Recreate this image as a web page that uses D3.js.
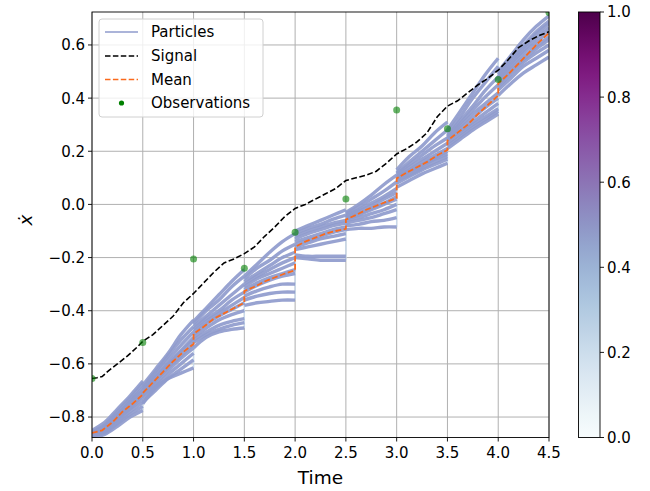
<!DOCTYPE html>
<html><head><meta charset="utf-8">
<script src="https://cdn.jsdelivr.net/npm/d3@7"></script>
<style>body{margin:0;background:#fff}text{font-family:"DejaVu Sans",sans-serif}</style>
</head><body><svg id="c" width="650" height="491"></svg>
<script>
// ---- data ----
const obsTimes = [0, 0.5, 1.0, 1.5, 2.0, 2.5, 3.0, 3.5, 4.0, 4.5];
const obsValues = [-0.655, -0.52, -0.205, -0.24, -0.105, 0.02, 0.355, 0.285, 0.47, 0.722];
const signal = [[0,-0.655],[0.05,-0.652],[0.1,-0.648],[0.15,-0.63],[0.25,-0.6],[0.35,-0.57],[0.45,-0.535],[0.5,-0.515],[0.6,-0.49],[0.7,-0.455],[0.8,-0.42],[0.9,-0.37],[1.0,-0.335],[1.1,-0.295],[1.2,-0.255],[1.3,-0.22],[1.4,-0.205],[1.5,-0.185],[1.6,-0.16],[1.7,-0.12],[1.8,-0.085],[1.9,-0.045],[2.0,-0.015],[2.1,0.0],[2.2,0.02],[2.3,0.04],[2.4,0.06],[2.5,0.09],[2.6,0.1],[2.7,0.11],[2.8,0.125],[2.9,0.155],[3.0,0.19],[3.1,0.21],[3.2,0.235],[3.3,0.27],[3.4,0.33],[3.5,0.37],[3.6,0.39],[3.7,0.42],[3.8,0.45],[3.9,0.475],[4.0,0.505],[4.1,0.545],[4.2,0.59],[4.3,0.615],[4.4,0.635],[4.5,0.65]];
// mean per segment, values at offsets 0, .1, .2, .3, .4, .5
const meanSegments = [
  [-0.86,-0.85,-0.82,-0.78,-0.75,-0.715],
  [-0.71,-0.67,-0.63,-0.59,-0.555,-0.525],
  [-0.487,-0.46,-0.43,-0.41,-0.39,-0.37],
  [-0.326,-0.31,-0.29,-0.275,-0.26,-0.248],
  [-0.16,-0.14,-0.125,-0.11,-0.1,-0.092],
  [-0.057,-0.04,-0.02,-0.005,0.01,0.024],
  [0.098,0.12,0.14,0.16,0.185,0.205],
  [0.24,0.27,0.3,0.34,0.375,0.41],
  [0.455,0.49,0.53,0.57,0.61,0.645]
];
const meanOffsets = [0, 0.1, 0.2, 0.3, 0.4, 0.5];
// particles per segment, values at offsets 0, .125, .25, .375, .5
const particleOffsets = [0, 0.125, 0.25, 0.375, 0.5];
const particleSegments = [
 [[-0.85,-0.82,-0.77,-0.72,-0.665],[-0.855,-0.83,-0.78,-0.73,-0.675],[-0.86,-0.835,-0.79,-0.74,-0.69],[-0.86,-0.84,-0.79,-0.745,-0.70],[-0.865,-0.845,-0.80,-0.755,-0.71],[-0.86,-0.85,-0.805,-0.765,-0.72],[-0.865,-0.85,-0.81,-0.77,-0.73],[-0.87,-0.855,-0.82,-0.78,-0.745],[-0.87,-0.86,-0.825,-0.79,-0.76],[-0.875,-0.865,-0.835,-0.80,-0.775]],
 [[-0.68,-0.62,-0.56,-0.49,-0.435],[-0.69,-0.63,-0.57,-0.51,-0.46],[-0.695,-0.64,-0.585,-0.53,-0.48],[-0.70,-0.65,-0.6,-0.55,-0.50],[-0.71,-0.655,-0.605,-0.555,-0.51],[-0.715,-0.665,-0.615,-0.57,-0.525],[-0.72,-0.675,-0.625,-0.58,-0.54],[-0.73,-0.685,-0.64,-0.6,-0.56],[-0.745,-0.7,-0.655,-0.62,-0.585],[-0.75,-0.69,-0.655,-0.635,-0.615]],
 [[-0.44,-0.39,-0.34,-0.29,-0.245],[-0.45,-0.40,-0.36,-0.31,-0.27],[-0.46,-0.42,-0.38,-0.34,-0.30],[-0.47,-0.43,-0.40,-0.36,-0.33],[-0.48,-0.44,-0.41,-0.38,-0.35],[-0.49,-0.45,-0.42,-0.395,-0.37],[-0.50,-0.465,-0.435,-0.415,-0.40],[-0.51,-0.48,-0.455,-0.44,-0.43],[-0.52,-0.49,-0.47,-0.455,-0.445],[-0.54,-0.50,-0.48,-0.47,-0.465]],
 [[-0.27,-0.225,-0.18,-0.14,-0.11],[-0.28,-0.24,-0.21,-0.175,-0.15],[-0.29,-0.26,-0.23,-0.2,-0.18],[-0.30,-0.27,-0.245,-0.22,-0.20],[-0.31,-0.28,-0.26,-0.24,-0.22],[-0.32,-0.295,-0.275,-0.26,-0.245],[-0.33,-0.305,-0.285,-0.27,-0.26],[-0.345,-0.325,-0.31,-0.3,-0.30],[-0.36,-0.345,-0.335,-0.33,-0.33],[-0.38,-0.37,-0.365,-0.36,-0.36]],
 [[-0.10,-0.08,-0.06,-0.04,-0.02],[-0.11,-0.09,-0.075,-0.055,-0.04],[-0.12,-0.10,-0.085,-0.07,-0.06],[-0.13,-0.11,-0.095,-0.08,-0.07],[-0.14,-0.125,-0.11,-0.095,-0.085],[-0.15,-0.135,-0.12,-0.105,-0.095],[-0.16,-0.145,-0.13,-0.12,-0.11],[-0.17,-0.16,-0.15,-0.14,-0.13],[-0.19,-0.195,-0.195,-0.195,-0.195],[-0.20,-0.205,-0.21,-0.21,-0.21]],
 [[-0.03,0.0,0.035,0.075,0.11],[-0.035,-0.01,0.02,0.05,0.085],[-0.04,-0.02,0.005,0.03,0.06],[-0.045,-0.025,-0.005,0.02,0.045],[-0.05,-0.035,-0.015,0.005,0.03],[-0.055,-0.04,-0.02,0.0,0.02],[-0.06,-0.05,-0.035,-0.02,0.0],[-0.07,-0.06,-0.05,-0.035,-0.02],[-0.08,-0.075,-0.065,-0.06,-0.05],[-0.095,-0.09,-0.09,-0.085,-0.085]],
 [[0.13,0.18,0.22,0.27,0.31],[0.12,0.16,0.2,0.24,0.28],[0.115,0.15,0.185,0.22,0.25],[0.11,0.14,0.17,0.2,0.23],[0.105,0.13,0.16,0.185,0.21],[0.10,0.125,0.15,0.175,0.2],[0.095,0.12,0.145,0.17,0.19],[0.09,0.11,0.135,0.16,0.18],[0.08,0.105,0.13,0.15,0.17],[0.065,0.09,0.115,0.135,0.155]],
 [[0.28,0.35,0.42,0.49,0.55],[0.27,0.33,0.40,0.46,0.52],[0.26,0.315,0.37,0.43,0.48],[0.255,0.305,0.355,0.405,0.45],[0.25,0.295,0.34,0.38,0.42],[0.245,0.285,0.325,0.365,0.40],[0.24,0.275,0.31,0.345,0.38],[0.23,0.265,0.3,0.33,0.36],[0.22,0.255,0.29,0.32,0.35],[0.21,0.245,0.28,0.31,0.34]],
 [[0.50,0.56,0.62,0.67,0.71],[0.49,0.55,0.60,0.65,0.69],[0.48,0.54,0.59,0.64,0.68],[0.475,0.53,0.58,0.625,0.665],[0.47,0.52,0.57,0.61,0.65],[0.46,0.51,0.555,0.595,0.63],[0.45,0.5,0.545,0.585,0.62],[0.44,0.49,0.535,0.57,0.60],[0.43,0.475,0.52,0.55,0.58],[0.41,0.455,0.495,0.525,0.555]]
];
const xTicks = [0, 0.5, 1.0, 1.5, 2.0, 2.5, 3.0, 3.5, 4.0, 4.5];
const yTicks = [-0.8, -0.6, -0.4, -0.2, 0.0, 0.2, 0.4, 0.6];
const cbTicks = [0.0, 0.2, 0.4, 0.6, 0.8, 1.0];
const legendLabels = ["Particles", "Signal", "Mean", "Observations"];

// ---- layout ----
const L = 92, R = 549, T = 12, B = 437.5;
const svg = d3.select("#c");
const x = d3.scaleLinear().domain([0, 4.5]).range([L, R]);
const y = d3.scaleLinear().domain([-0.877, 0.724]).range([B, T]);
const fmt = d3.format(".1f");
const partColor = "#8f9bcd";
const meanColor = "#fa6a1c";
const segStart = k => obsTimes[k];

svg.append("clipPath").attr("id","clip").append("rect").attr("x",L).attr("y",T).attr("width",R-L).attr("height",B-T);

// grid
const grid = svg.append("g");
xTicks.forEach(t => grid.append("line").attr("x1",x(t)).attr("x2",x(t)).attr("y1",T).attr("y2",B).attr("stroke","#b0b0b0").attr("stroke-width",1));
yTicks.forEach(t => grid.append("line").attr("x1",L).attr("x2",R).attr("y1",y(t)).attr("y2",y(t)).attr("stroke","#b0b0b0").attr("stroke-width",1));

const plot = svg.append("g").attr("clip-path","url(#clip)");
const line = d3.line().x(d => x(d[0])).y(d => y(d[1]));

// resampling connectors
for (let k = 1; k < particleSegments.length; k++) {
  const vals = particleSegments[k-1].map(p => p[p.length-1]).concat(particleSegments[k].map(p => p[0]));
  plot.append("line").attr("x1",x(segStart(k))).attr("x2",x(segStart(k)))
    .attr("y1",y(d3.min(vals))).attr("y2",y(d3.max(vals)))
    .attr("stroke","#c9d9ea").attr("stroke-width",1.4);
}
// particles
const pline = d3.line().x(d => x(d[0])).y(d => y(d[1])).curve(d3.curveCatmullRom);
particleSegments.forEach((seg, k) => {
  seg.forEach(p => {
    const pts = p.map((v, i) => [segStart(k) + particleOffsets[i], v]);
    plot.append("path").attr("d", pline(pts)).attr("fill","none")
      .attr("stroke", partColor).attr("stroke-opacity",0.92).attr("stroke-width",3.4).attr("stroke-linejoin","round");
  });
});
// signal
plot.append("path").attr("d", line(signal)).attr("fill","none").attr("stroke","#000")
  .attr("stroke-width",1.6).attr("stroke-dasharray","5.8,2.5");
// mean
const meanPts = [];
meanSegments.forEach((seg, k) => seg.forEach((v, i) => meanPts.push([segStart(k) + meanOffsets[i], v])));
plot.append("path").attr("d", line(meanPts)).attr("fill","none").attr("stroke",meanColor)
  .attr("stroke-width",1.8).attr("stroke-dasharray","5.8,2.5");
// observations
plot.append("g").selectAll("circle").data(obsTimes).join("circle")
  .attr("cx", (d) => x(d)).attr("cy", (d, i) => y(obsValues[i])).attr("r",3.5)
  .attr("fill","#008000").attr("fill-opacity",0.6);

// frame
svg.append("rect").attr("x",L).attr("y",T).attr("width",R-L).attr("height",B-T).attr("fill","none").attr("stroke","#000").attr("stroke-width",0.9);

// axes
const xAxis = svg.append("g");
xTicks.forEach(t => {
  xAxis.append("line").attr("x1",x(t)).attr("x2",x(t)).attr("y1",B).attr("y2",B+4).attr("stroke","#000").attr("stroke-width",0.9);
  xAxis.append("text").attr("x",x(t)).attr("y",B+20).attr("text-anchor","middle").attr("font-size",15).text(fmt(t));
});
const yAxis = svg.append("g");
yTicks.forEach(t => {
  yAxis.append("line").attr("x1",L-4).attr("x2",L).attr("y1",y(t)).attr("y2",y(t)).attr("stroke","#000").attr("stroke-width",0.9);
  yAxis.append("text").attr("x",L-7).attr("y",y(t)).attr("dy","0.36em").attr("text-anchor","end").attr("font-size",15).text(fmt(t));
});
svg.append("text").attr("x",(L+R)/2).attr("y",484).attr("text-anchor","middle").attr("font-size",18.5).text("Time");
svg.append("text").attr("transform","translate(32,220) rotate(-90)").attr("text-anchor","middle")
  .attr("font-size",18.5).attr("font-style","italic").text("ẋ");

// legend
const lg = svg.append("g");
lg.append("rect").attr("x",99).attr("y",19).attr("width",164).attr("height",98).attr("rx",3)
  .attr("fill","#fff").attr("fill-opacity",0.8).attr("stroke","#d0d0d0");
const rowY = [32, 56, 79.5, 103];
lg.append("line").attr("x1",105).attr("x2",138).attr("y1",rowY[0]).attr("y2",rowY[0]).attr("stroke",partColor).attr("stroke-width",1.5);
lg.append("line").attr("x1",105).attr("x2",138).attr("y1",rowY[1]).attr("y2",rowY[1]).attr("stroke","#000").attr("stroke-width",1.5).attr("stroke-dasharray","5.5,2.4");
lg.append("line").attr("x1",105).attr("x2",138).attr("y1",rowY[2]).attr("y2",rowY[2]).attr("stroke",meanColor).attr("stroke-width",1.5).attr("stroke-dasharray","5.5,2.4");
lg.append("circle").attr("cx",121.5).attr("cy",rowY[3]).attr("r",2.6).attr("fill","#008000");
legendLabels.forEach((s, i) => lg.append("text").attr("x",151).attr("y",rowY[i]).attr("dy","0.36em").attr("font-size",15).text(s));

// colorbar
const cbL = 578.5, cbR = 600;
const defs = svg.append("defs");
const grad = defs.append("linearGradient").attr("id","bupu").attr("x1",0).attr("y1",1).attr("x2",0).attr("y2",0);
d3.range(0, 1.0001, 0.05).forEach(s => grad.append("stop").attr("offset", s).attr("stop-color", d3.interpolateBuPu(s)));
svg.append("rect").attr("x",cbL).attr("y",T).attr("width",cbR-cbL).attr("height",B-T).attr("fill","url(#bupu)").attr("stroke","#000").attr("stroke-width",0.9);
const cy = d3.scaleLinear().domain([0,1]).range([B, T]);
cbTicks.forEach(t => {
  svg.append("line").attr("x1",cbR).attr("x2",cbR+4).attr("y1",cy(t)).attr("y2",cy(t)).attr("stroke","#000").attr("stroke-width",0.9);
  svg.append("text").attr("x",cbR+7).attr("y",cy(t)).attr("dy","0.36em").attr("font-size",15).text(fmt(t));
});
</script></body></html>
